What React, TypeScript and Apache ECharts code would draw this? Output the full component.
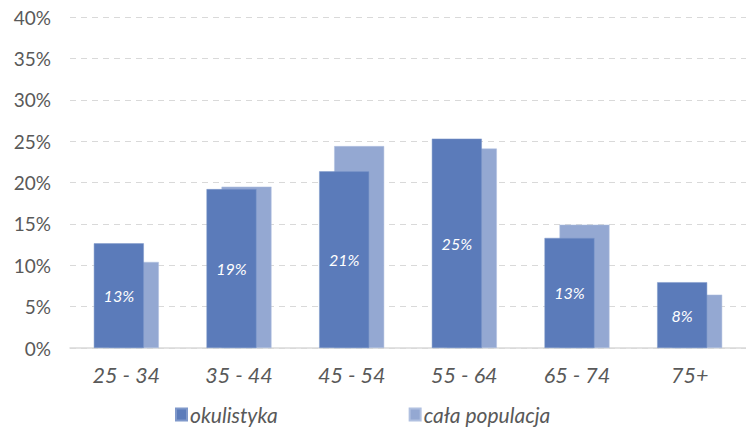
import React, { useEffect, useRef } from "react";
import * as echarts from "echarts";

const categories = ["25 - 34", "35 - 44", "45 - 54", "55 - 64", "65 - 74", "75+"];
const okulistyka = [12.65, 19.2, 21.35, 25.3, 13.3, 7.95];
const calaPopulacja = [10.4, 19.5, 24.4, 24.1, 14.9, 6.45];
const yTicks = [0, 5, 10, 15, 20, 25, 30, 35, 40];

export default function App() {
  const ref = useRef<HTMLDivElement>(null);
  useEffect(() => {
    document.body.style.margin = "0";
    const chart = echarts.init(ref.current!, undefined, { renderer: "svg" });
    const font = "Lato, 'Open Sans', sans-serif";
    chart.setOption({
      animation: false,
      backgroundColor: "#ffffff",
      textStyle: { fontFamily: font },
      grid: { left: 70, top: 17, width: 690, height: 331, containLabel: false },
      legend: {
        left: 170,
        top: 399,
        itemWidth: 11,
        itemHeight: 12,
        itemGap: 131,
        icon: "rect",
        textStyle: { fontFamily: font, fontSize: 21, fontStyle: "italic", color: "#595959", padding: [0, 0, 0, -2] },
        data: ["okulistyka", "cała populacja"],
      },
      xAxis: {
        type: "category",
        data: categories,
        axisLine: { lineStyle: { color: "#d9d9d9", width: 1.5 } },
        axisTick: { show: false },
        axisLabel: { fontFamily: font, fontSize: 21.5, fontStyle: "italic", color: "#595959", margin: 16 },
      },
      yAxis: {
        type: "value",
        min: 0,
        max: 40,
        interval: 5,
        axisLine: { show: false },
        axisTick: { show: false },
        splitLine: { lineStyle: { color: "#d9d9d9", type: [6, 5], width: 1.2 } },
        axisLabel: {
          fontFamily: font,
          fontSize: 19,
          color: "#595959",
          margin: 19,
          formatter: (v: number) => (yTicks.includes(v) ? v + "%" : ""),
        },
      },
      series: [
        {
          name: "okulistyka",
          type: "bar",
          data: okulistyka,
          barWidth: 50,
          barGap: "-70%",
          z: 3,
          itemStyle: { color: "#5b7bba", borderColor: "#7f98ca", borderWidth: 0.5 },
          label: {
            show: true,
            position: "inside",
            color: "#ffffff",
            fontFamily: font,
            fontSize: 16,
            fontStyle: "italic",
            formatter: (p: any) => Math.round(p.value) + "%",
          },
        },
        {
          name: "cała populacja",
          type: "bar",
          data: calaPopulacja,
          barWidth: 50,
          z: 2,
          itemStyle: { color: "#94a8d2", borderColor: "#b0c0e0", borderWidth: 0.5 },
        },
      ],
    });
    return () => chart.dispose();
  }, []);
  return <div ref={ref} style={{ width: 746, height: 429 }} />;
}
